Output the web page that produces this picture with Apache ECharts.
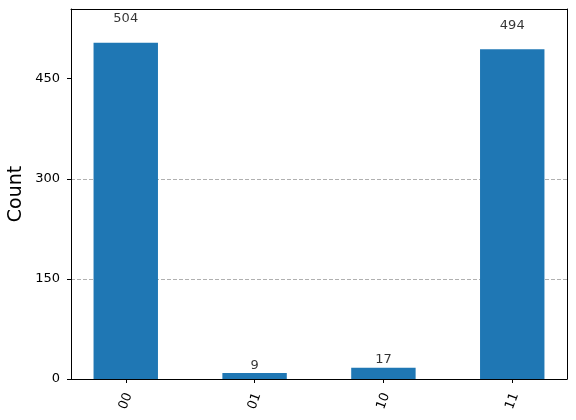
<!DOCTYPE html>
<html>
<head>
<meta charset="utf-8">
<script src="https://cdn.jsdelivr.net/npm/echarts@6/dist/echarts.min.js"></script>
<style>
html,body{margin:0;padding:0;background:#fff;}
#main{width:576px;height:420px;}
</style>
</head>
<body>
<div id="main"></div>
<script>
const categories = ['00', '01', '10', '11'];
const counts = [504, 9, 17, 494];
const yTicks = [0, 150, 300, 450];
const yLabel = 'Count';

const W = 576, H = 420;
const gridL = 71, gridR = 9, gridT = 9, gridB = 41;
const xMin = -0.425, xMax = categories.length - 1 + 0.425;
const yMax = Math.max(...counts) * 1.1;
const barW = (W - gridL - gridR) / (xMax - xMin) * 0.5;
const font = 'DejaVu Sans';

const chart = echarts.init(document.getElementById('main'), null, {renderer: 'canvas'});
chart.setOption({
  animation: false,
  backgroundColor: '#fff',
  textStyle: {fontFamily: font},
  grid: {left: gridL, right: gridR, top: gridT, bottom: gridB, containLabel: false, outerBoundsMode: 'none'},
  xAxis: [{
    type: 'value', min: xMin, max: xMax,
    axisLine: {show: true, onZero: false, lineStyle: {color: '#000', width: 1}},
    axisTick: {show: true, customValues: categories.map((c, i) => i), length: 4, lineStyle: {color: '#000'}},
    axisLabel: {show: true, customValues: categories.map((c, i) => i), rotate: 70, align: 'center', verticalAlign: 'middle', margin: 22,
      fontSize: 13, color: '#000', fontFamily: font,
      formatter: v => categories[Math.round(v)]},
    splitLine: {show: false}
  }, {
    type: 'value', position: 'top', min: 0, max: 1,
    axisLine: {show: true, onZero: false, lineStyle: {color: '#000', width: 1}},
    axisTick: {show: false}, axisLabel: {show: false}, splitLine: {show: false}
  }],
  yAxis: [{
    type: 'value', min: 0, max: yMax, interval: 150,
    name: yLabel, nameLocation: 'middle', nameGap: 45, nameRotate: 90, nameMoveOverlap: false,
    nameTextStyle: {fontSize: 19, color: '#000', fontFamily: font},
    axisLine: {show: true, onZero: false, lineStyle: {color: '#000', width: 1}},
    axisTick: {show: true, customValues: yTicks, length: 4, lineStyle: {color: '#000'}},
    axisLabel: {show: true, customValues: yTicks, fontSize: 13, color: '#000', margin: 11, fontFamily: font},
    splitLine: {show: true, showMinLine: false, showMaxLine: false, lineStyle: {color: '#b0b0b0', type: [4, 2], width: 1}}
  }, {
    type: 'value', position: 'right', min: 0, max: 1,
    axisLine: {show: true, onZero: false, lineStyle: {color: '#000', width: 1}},
    axisTick: {show: false}, axisLabel: {show: false}, splitLine: {show: false}
  }],
  series: [{
    type: 'bar',
    xAxisIndex: 0, yAxisIndex: 0,
    barWidth: barW,
    itemStyle: {color: '#1f77b4'},
    data: counts.map((v, i) => [i, v]),
    z: 2
  }, {
    type: 'scatter',
    xAxisIndex: 0, yAxisIndex: 0,
    symbolSize: 0,
    silent: true,
    data: counts.map((v, i) => [i, v * 1.05, v]),
    label: {show: true, position: 'top', distance: 1, fontSize: 13, color: '#000', fontFamily: font,
      formatter: p => String(p.value[2])},
    z: 3
  }]
});
</script>
</body>
</html>
